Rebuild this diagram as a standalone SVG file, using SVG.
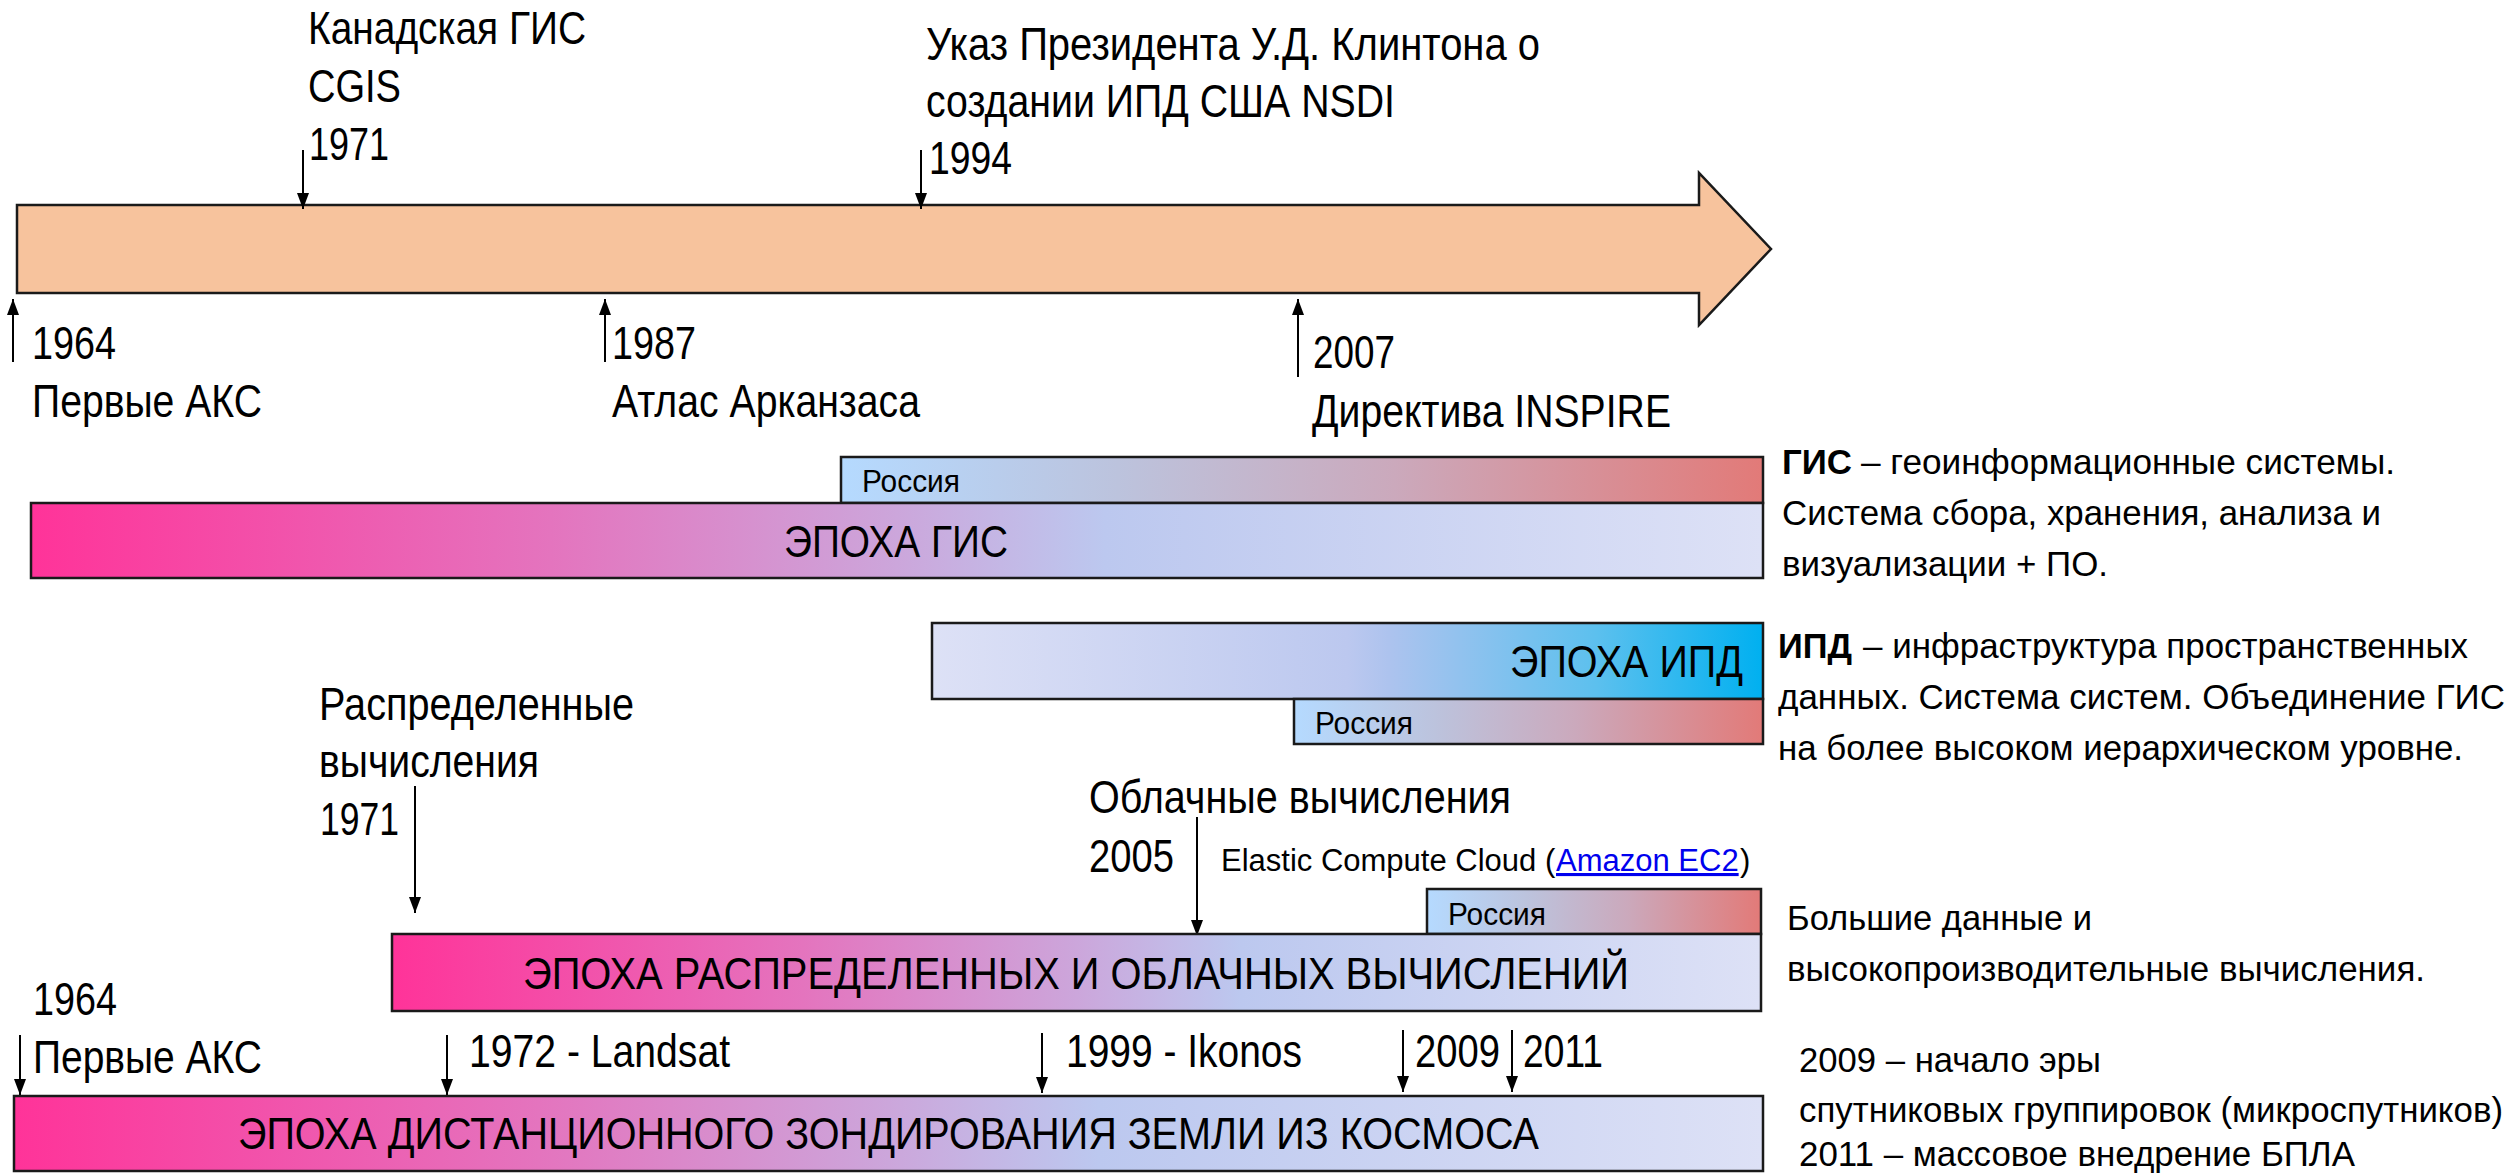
<svg xmlns="http://www.w3.org/2000/svg" width="2517" height="1174" viewBox="0 0 2517 1174">
<defs>
<style>
.t{font-family:"Liberation Sans",Arial,sans-serif;fill:#000}
.lbl{font-size:46px}
.bar{font-size:44px}
.ru{font-size:32px}
.side{font-size:35px}
.sm{font-size:31px}
.b{font-weight:bold}
.box{stroke:#1a1a1a;stroke-width:2.5}
.ar{stroke:#000;stroke-width:2;fill:none;marker-end:url(#ah)}
.link{fill:#0000EE;text-decoration:underline}
</style>
<marker id="ah" markerUnits="userSpaceOnUse" markerWidth="16" markerHeight="12" refX="16" refY="6" orient="auto" overflow="visible">
<path d="M0,0 L16,6 L0,12 z" fill="#000"/>
</marker>
<linearGradient id="gEpoch" x1="0" y1="0" x2="1" y2="0">
<stop offset="0" stop-color="#FF3399"/>
<stop offset="0.3" stop-color="#E474BE"/>
<stop offset="0.5" stop-color="#CCA6DB"/>
<stop offset="0.62" stop-color="#BCC8EF"/>
<stop offset="1" stop-color="#DDE1F6"/>
</linearGradient>
<linearGradient id="gIpd" x1="0" y1="0" x2="1" y2="0">
<stop offset="0" stop-color="#DDE1F6"/>
<stop offset="0.5" stop-color="#BCC8EF"/>
<stop offset="0.55" stop-color="#ADC3EE"/>
<stop offset="0.8" stop-color="#5CC0EE"/>
<stop offset="1" stop-color="#00B0F0"/>
</linearGradient>
<linearGradient id="gRu" x1="0" y1="0" x2="1" y2="0">
<stop offset="0" stop-color="#B5DAFF"/>
<stop offset="0.3" stop-color="#BCC3DD"/>
<stop offset="0.6" stop-color="#CBA9BC"/>
<stop offset="1" stop-color="#E27A78"/>
</linearGradient>
</defs>
<rect width="2517" height="1174" fill="#fff"/>

<g id="timeline">
<path class="box" d="M17,205 L1699,205 L1699,173 L1771,249 L1699,325 L1699,293 L17,293 Z" fill="#F7C39D"/>
</g>

<g id="connectors">
<line class="ar" x1="303" y1="150" x2="303" y2="209"/>
<line class="ar" x1="921" y1="150" x2="921" y2="209"/>
<line class="ar" x1="13" y1="362" x2="13" y2="299"/>
<line class="ar" x1="605" y1="362" x2="605" y2="299"/>
<line class="ar" x1="1298" y1="377" x2="1298" y2="299"/>
<line class="ar" x1="415" y1="786" x2="415" y2="913"/>
<line class="ar" x1="1197" y1="817" x2="1197" y2="936"/>
<line class="ar" x1="20" y1="1035" x2="20" y2="1095"/>
<line class="ar" x1="447" y1="1035" x2="447" y2="1095"/>
<line class="ar" x1="1042" y1="1033" x2="1042" y2="1093"/>
<line class="ar" x1="1403" y1="1030" x2="1403" y2="1092"/>
<line class="ar" x1="1512" y1="1030" x2="1512" y2="1092"/>
</g>

<g id="ev-1971-cgis">
<text class="t lbl" x="308" y="44" textLength="278" lengthAdjust="spacingAndGlyphs">Канадская ГИС</text>
<text class="t lbl" x="308" y="102" textLength="93" lengthAdjust="spacingAndGlyphs">CGIS</text>
<text class="t lbl" x="309" y="160" textLength="80" lengthAdjust="spacingAndGlyphs">1971</text>
</g>
<g id="ev-1994-nsdi">
<text class="t lbl" x="926" y="60" textLength="614" lengthAdjust="spacingAndGlyphs">Указ Президента У.Д. Клинтона о</text>
<text class="t lbl" x="926" y="117" textLength="469" lengthAdjust="spacingAndGlyphs">создании ИПД США NSDI</text>
<text class="t lbl" x="929" y="174" textLength="83" lengthAdjust="spacingAndGlyphs">1994</text>
</g>
<g id="ev-1964-top">
<text class="t lbl" x="32" y="359" textLength="84" lengthAdjust="spacingAndGlyphs">1964</text>
<text class="t lbl" x="32" y="417" textLength="230" lengthAdjust="spacingAndGlyphs">Первые АКС</text>
</g>
<g id="ev-1987">
<text class="t lbl" x="612" y="359" textLength="84" lengthAdjust="spacingAndGlyphs">1987</text>
<text class="t lbl" x="612" y="417" textLength="308" lengthAdjust="spacingAndGlyphs">Атлас Арканзаса</text>
</g>
<g id="ev-2007">
<text class="t lbl" x="1313" y="368" textLength="82" lengthAdjust="spacingAndGlyphs">2007</text>
<text class="t lbl" x="1312" y="427" textLength="359" lengthAdjust="spacingAndGlyphs">Директива INSPIRE</text>
</g>

<g id="gis-russia">
<rect class="box" x="841" y="457" width="922" height="46" fill="url(#gRu)"/>
<text class="t ru" x="862" y="492" textLength="98" lengthAdjust="spacingAndGlyphs">Россия</text>
</g>
<g id="gis-epoch">
<rect class="box" x="31" y="503" width="1732" height="75" fill="url(#gEpoch)"/>
<text class="t bar" x="784" y="557" textLength="224" lengthAdjust="spacingAndGlyphs">ЭПОХА ГИС</text>
</g>
<g id="gis-note">
<text class="t side b" x="1782" y="474" textLength="70" lengthAdjust="spacingAndGlyphs">ГИС</text>
<text class="t side" x="1861" y="474" textLength="534" lengthAdjust="spacingAndGlyphs">– геоинформационные системы.</text>
<text class="t side" x="1782" y="525" textLength="599" lengthAdjust="spacingAndGlyphs">Система сбора, хранения, анализа и</text>
<text class="t side" x="1782" y="576" textLength="326" lengthAdjust="spacingAndGlyphs">визуализации + ПО.</text>
</g>

<g id="ipd-epoch">
<rect class="box" x="932" y="623" width="831" height="76" fill="url(#gIpd)"/>
<text class="t bar" x="1510" y="677" textLength="233" lengthAdjust="spacingAndGlyphs">ЭПОХА ИПД</text>
</g>
<g id="ipd-russia">
<rect class="box" x="1294" y="699" width="469" height="45" fill="url(#gRu)"/>
<text class="t ru" x="1315" y="734" textLength="98" lengthAdjust="spacingAndGlyphs">Россия</text>
</g>
<g id="ipd-note">
<text class="t side b" x="1778" y="658" textLength="74" lengthAdjust="spacingAndGlyphs">ИПД</text>
<text class="t side" x="1863" y="658" textLength="605" lengthAdjust="spacingAndGlyphs">– инфраструктура пространственных</text>
<text class="t side" x="1778" y="709" textLength="727" lengthAdjust="spacingAndGlyphs">данных. Система систем. Объединение ГИС</text>
<text class="t side" x="1778" y="760" textLength="685" lengthAdjust="spacingAndGlyphs">на более высоком иерархическом уровне.</text>
</g>

<g id="ev-1971-dist">
<text class="t lbl" x="319" y="720" textLength="315" lengthAdjust="spacingAndGlyphs">Распределенные</text>
<text class="t lbl" x="319" y="777" textLength="220" lengthAdjust="spacingAndGlyphs">вычисления</text>
<text class="t lbl" x="320" y="835" textLength="79" lengthAdjust="spacingAndGlyphs">1971</text>
</g>
<g id="ev-2005-cloud">
<text class="t lbl" x="1089" y="813" textLength="422" lengthAdjust="spacingAndGlyphs">Облачные вычисления</text>
<text class="t lbl" x="1089" y="872" textLength="85" lengthAdjust="spacingAndGlyphs">2005</text>
<text class="t sm" x="1221" y="871">Elastic Compute Cloud (</text>
<text class="t sm link" x="1556" y="871">Amazon EC2</text>
<text class="t sm" x="1740" y="871">)</text>
</g>
<g id="dist-russia">
<rect class="box" x="1427" y="889" width="334" height="45" fill="url(#gRu)"/>
<text class="t ru" x="1448" y="925" textLength="98" lengthAdjust="spacingAndGlyphs">Россия</text>
</g>
<g id="dist-epoch">
<rect class="box" x="392" y="934" width="1369" height="77" fill="url(#gEpoch)"/>
<text class="t bar" x="523" y="989" textLength="1106" lengthAdjust="spacingAndGlyphs">ЭПОХА РАСПРЕДЕЛЕННЫХ И ОБЛАЧНЫХ ВЫЧИСЛЕНИЙ</text>
</g>
<g id="dist-note">
<text class="t side" x="1787" y="930" textLength="305" lengthAdjust="spacingAndGlyphs">Большие данные и</text>
<text class="t side" x="1787" y="981" textLength="638" lengthAdjust="spacingAndGlyphs">высокопроизводительные вычисления.</text>
</g>

<g id="ev-1964-rs">
<text class="t lbl" x="33" y="1015" textLength="84" lengthAdjust="spacingAndGlyphs">1964</text>
<text class="t lbl" x="33" y="1073" textLength="229" lengthAdjust="spacingAndGlyphs">Первые АКС</text>
</g>
<g id="ev-1972">
<text class="t lbl" x="469" y="1067" textLength="261" lengthAdjust="spacingAndGlyphs">1972 - Landsat</text>
</g>
<g id="ev-1999">
<text class="t lbl" x="1066" y="1067" textLength="236" lengthAdjust="spacingAndGlyphs">1999 - Ikonos</text>
</g>
<g id="ev-2009">
<text class="t lbl" x="1415" y="1067" textLength="85" lengthAdjust="spacingAndGlyphs">2009</text>
</g>
<g id="ev-2011">
<text class="t lbl" x="1523" y="1067" textLength="80" lengthAdjust="spacingAndGlyphs">2011</text>
</g>
<g id="rs-epoch">
<rect class="box" x="14" y="1096" width="1749" height="75" fill="url(#gEpoch)"/>
<text class="t bar" x="238" y="1149" textLength="1301" lengthAdjust="spacingAndGlyphs">ЭПОХА ДИСТАНЦИОННОГО ЗОНДИРОВАНИЯ ЗЕМЛИ ИЗ КОСМОСА</text>
</g>
<g id="rs-note">
<text class="t side" x="1799" y="1072" textLength="302" lengthAdjust="spacingAndGlyphs">2009 – начало эры</text>
<text class="t side" x="1799" y="1122" textLength="704" lengthAdjust="spacingAndGlyphs">спутниковых группировок (микроспутников)</text>
<text class="t side" x="1799" y="1166" textLength="556" lengthAdjust="spacingAndGlyphs">2011 – массовое внедрение БПЛА</text>
</g>
</svg>
